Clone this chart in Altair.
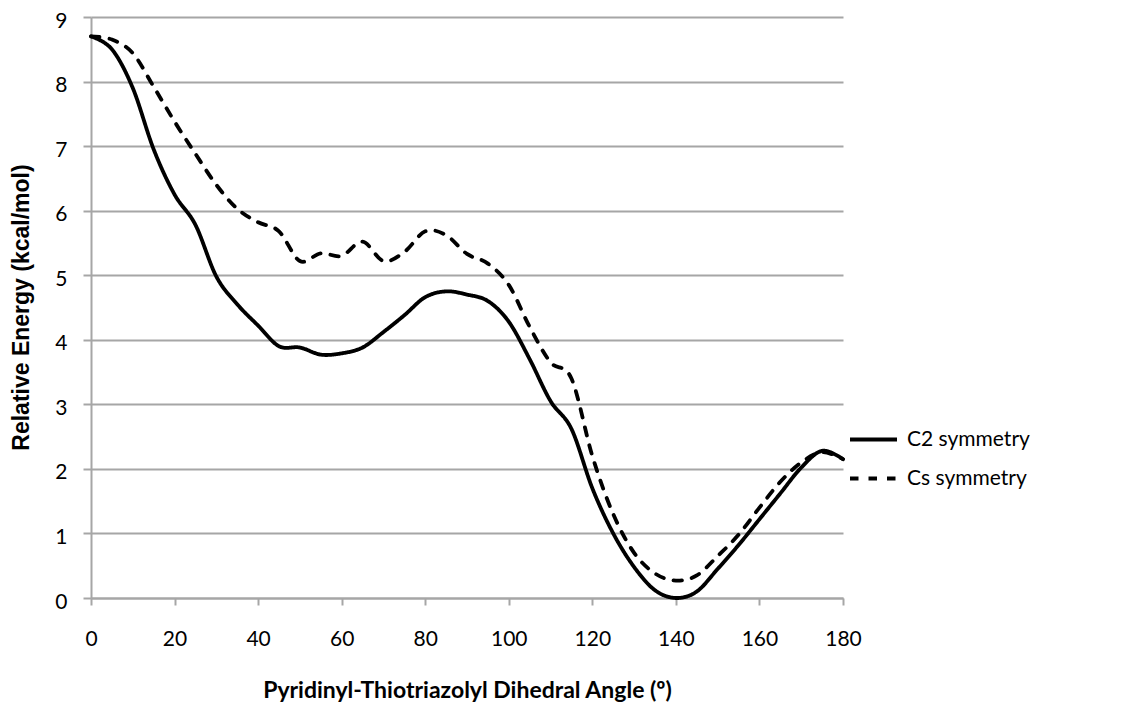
import altair as alt
import pandas as pd

angles = list(range(0, 181, 5))
c2_energy = [8.70, 8.50, 7.90, 6.95, 6.25, 5.78, 4.98, 4.55, 4.22, 3.90,
             3.88, 3.77, 3.79, 3.88, 4.12, 4.38, 4.66, 4.75, 4.70, 4.60,
             4.28, 3.70, 3.05, 2.62, 1.70, 1.00, 0.48, 0.12, 0.00, 0.10,
             0.45, 0.82, 1.22, 1.62, 2.02, 2.28, 2.15]
cs_energy = [8.70, 8.65, 8.44, 7.92, 7.38, 6.88, 6.40, 6.03, 5.82, 5.68,
             5.22, 5.34, 5.30, 5.52, 5.22, 5.36, 5.68, 5.62, 5.33, 5.18,
             4.85, 4.20, 3.65, 3.40, 2.20, 1.30, 0.70, 0.38, 0.27, 0.35,
             0.65, 0.98, 1.40, 1.80, 2.10, 2.26, 2.15]
series_names = ["C2 symmetry", "Cs symmetry"]
x_ticks = list(range(0, 181, 20))
y_ticks = list(range(0, 10))

rows = []
for name, vals in zip(series_names, [c2_energy, cs_energy]):
    for a, v in zip(angles, vals):
        rows.append({"angle": a, "energy": v, "series": name})
df = pd.DataFrame(rows)

GRAY = "#a6a6a6"
FONT = "Lato"

chart = alt.Chart(df).mark_line(
    color="black", strokeWidth=3.8, interpolate="cardinal", strokeCap="round"
).encode(
    x=alt.X("angle:Q", scale=alt.Scale(domain=[0, 180], nice=False),
            axis=alt.Axis(values=x_ticks, title="Pyridinyl-Thiotriazolyl Dihedral Angle (º)",
                          grid=False, tickSize=7, labelPadding=34, labelBaseline="middle",
                          labelFlush=False,
                          titleY=92, titleBaseline="middle", titleFontSize=23)),
    y=alt.Y("energy:Q", scale=alt.Scale(domain=[0, 9], nice=False),
            axis=alt.Axis(values=y_ticks, title="Relative Energy (kcal/mol)",
                          grid=True, tickSize=8, labelPadding=16, labelOffset=4,
                          labelFlush=False, labelBaseline="middle",
                          titleX=-70, titleY=290, titleAngle=270,
                          titleBaseline="middle", titleAlign="center",
                          titleFont="Liberation Sans", titleFontSize=23)),
    strokeDash=alt.StrokeDash("series:N",
                              scale=alt.Scale(domain=series_names, range=[[1, 0], [8.5, 10]]),
                              legend=alt.Legend(title=None, orient="none", legendX=757, legendY=397,
                                                symbolType="stroke", symbolSize=2209,
                                                symbolStrokeWidth=3.8, symbolStrokeColor="black",
                                                labelFontSize=21, labelFont=FONT, labelColor="black",
                                                rowPadding=3, labelOffset=8)),
).properties(
    width=752, height=581,
    background="white",
    autosize=alt.AutoSizeParams(type="none"),
    padding={"left": 83, "top": 9, "right": 273, "bottom": 104},
).configure_view(stroke=None).configure_axis(
    domainColor=GRAY, domainWidth=2, tickColor=GRAY, tickWidth=2,
    gridColor=GRAY, gridWidth=2, gridOpacity=1,
    labelFont=FONT, labelFontSize=21, labelColor="black",
    titleFont=FONT, titleFontSize=19, titleFontWeight="bold", titleColor="black",
)

chart.save("out.html", embed_options={"renderer": "svg", "actions": False})
